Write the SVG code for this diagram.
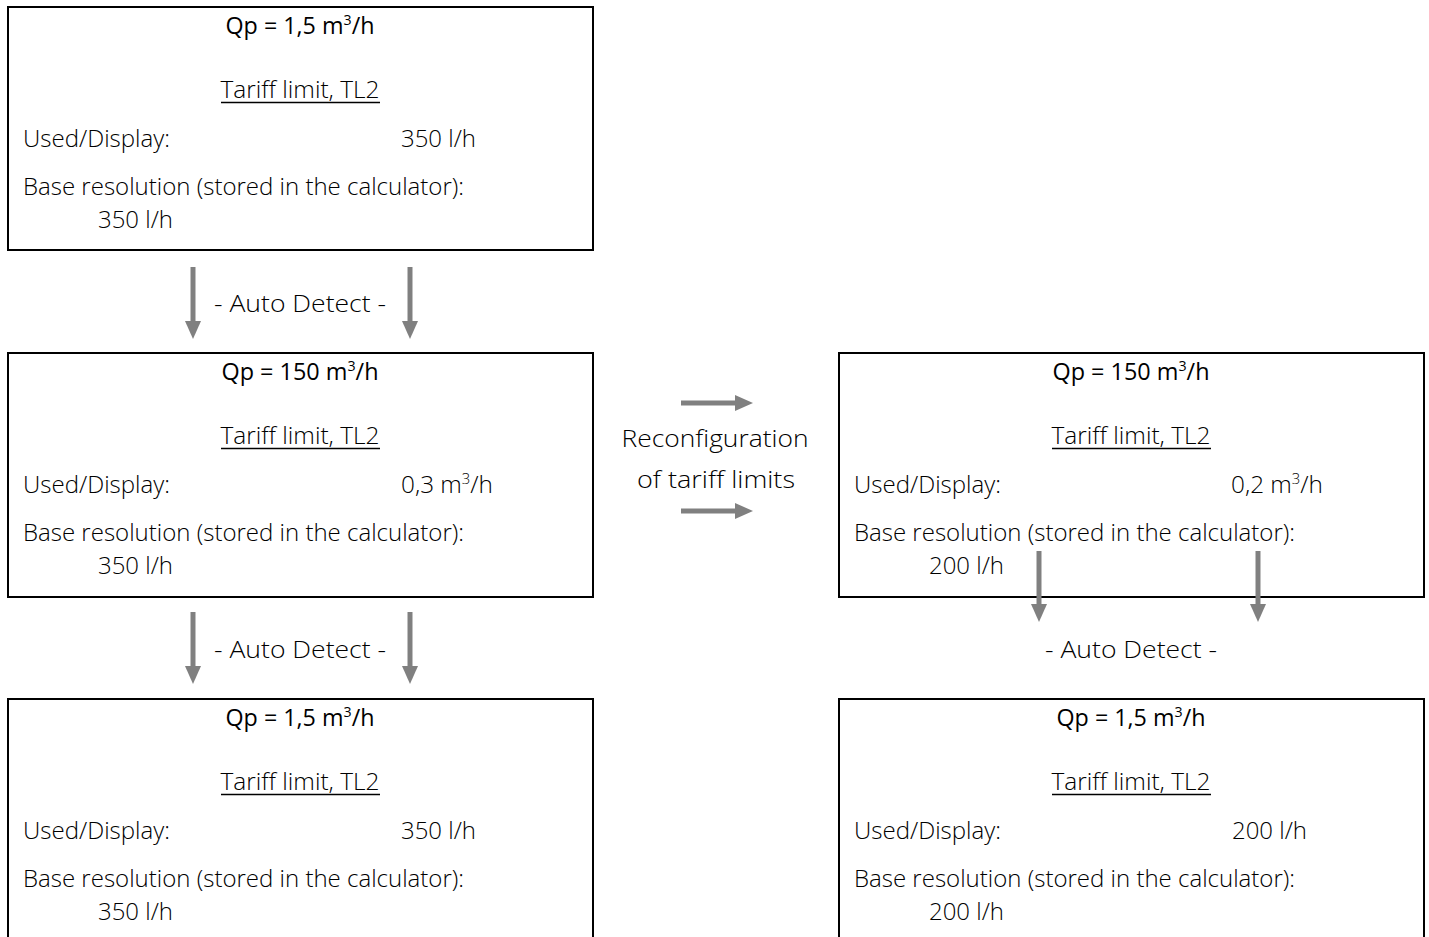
<svg xmlns="http://www.w3.org/2000/svg" width="1429" height="937" viewBox="0 0 1429 937">
<style>
.box{fill:#fff;stroke:#000;stroke-width:2}
text{font-family:"Open Sans","Liberation Sans",sans-serif;font-size:23px;font-weight:300;fill:#000}
.t{font-weight:400;text-anchor:middle}
.c{text-anchor:middle}
.sup{font-size:14px}
.ul{stroke:#000;stroke-width:1.5}
.ar{stroke:#808080;stroke-width:5;fill:none}
.ah{fill:#808080}
</style>
<defs>
<marker id="h" markerUnits="userSpaceOnUse" markerWidth="18" markerHeight="18" refX="0" refY="8" viewBox="0 0 18 16" orient="auto"><path d="M0,0 L18,8 L0,16 Z" class="ah"/></marker>
</defs>
<rect width="1429" height="937" fill="#fff"/>
<g id="box1">
<rect class="box" x="8" y="7" width="585" height="243"/>
<text class="t" x="300" y="34" textLength="149" lengthAdjust="spacingAndGlyphs">Qp = 1,5 m<tspan class="sup" dy="-9">3</tspan><tspan dy="9">/h</tspan></text>
<text class="c" x="300" y="98" textLength="159" lengthAdjust="spacingAndGlyphs">Tariff limit, TL2</text>
<line class="ul" x1="221" y1="102.5" x2="380" y2="102.5"/>
<text x="23" y="147" textLength="147" lengthAdjust="spacingAndGlyphs">Used/Display:</text>
<text x="401" y="147" textLength="75" lengthAdjust="spacingAndGlyphs">350 l/h</text>
<text x="23" y="195" textLength="441" lengthAdjust="spacingAndGlyphs">Base resolution (stored in the calculator):</text>
<text x="98" y="228" textLength="75" lengthAdjust="spacingAndGlyphs">350 l/h</text>
</g>
<g id="box2">
<rect class="box" x="8" y="353" width="585" height="244"/>
<text class="t" x="300" y="380" textLength="157" lengthAdjust="spacingAndGlyphs">Qp = 150 m<tspan class="sup" dy="-9">3</tspan><tspan dy="9">/h</tspan></text>
<text class="c" x="300" y="444" textLength="159" lengthAdjust="spacingAndGlyphs">Tariff limit, TL2</text>
<line class="ul" x1="221" y1="448.5" x2="380" y2="448.5"/>
<text x="23" y="493" textLength="147" lengthAdjust="spacingAndGlyphs">Used/Display:</text>
<text x="401" y="493" textLength="92" lengthAdjust="spacingAndGlyphs">0,3 m<tspan class="sup" dy="-9">3</tspan><tspan dy="9">/h</tspan></text>
<text x="23" y="541" textLength="441" lengthAdjust="spacingAndGlyphs">Base resolution (stored in the calculator):</text>
<text x="98" y="574" textLength="75" lengthAdjust="spacingAndGlyphs">350 l/h</text>
</g>
<g id="box3">
<rect class="box" x="8" y="699" width="585" height="260"/>
<text class="t" x="300" y="726" textLength="149" lengthAdjust="spacingAndGlyphs">Qp = 1,5 m<tspan class="sup" dy="-9">3</tspan><tspan dy="9">/h</tspan></text>
<text class="c" x="300" y="790" textLength="159" lengthAdjust="spacingAndGlyphs">Tariff limit, TL2</text>
<line class="ul" x1="221" y1="794.5" x2="380" y2="794.5"/>
<text x="23" y="839" textLength="147" lengthAdjust="spacingAndGlyphs">Used/Display:</text>
<text x="401" y="839" textLength="75" lengthAdjust="spacingAndGlyphs">350 l/h</text>
<text x="23" y="887" textLength="441" lengthAdjust="spacingAndGlyphs">Base resolution (stored in the calculator):</text>
<text x="98" y="920" textLength="75" lengthAdjust="spacingAndGlyphs">350 l/h</text>
</g>
<g id="box4">
<rect class="box" x="839" y="353" width="585" height="244"/>
<text class="t" x="1131" y="380" textLength="157" lengthAdjust="spacingAndGlyphs">Qp = 150 m<tspan class="sup" dy="-9">3</tspan><tspan dy="9">/h</tspan></text>
<text class="c" x="1131" y="444" textLength="159" lengthAdjust="spacingAndGlyphs">Tariff limit, TL2</text>
<line class="ul" x1="1052" y1="448.5" x2="1211" y2="448.5"/>
<text x="854" y="493" textLength="147" lengthAdjust="spacingAndGlyphs">Used/Display:</text>
<text x="1231" y="493" textLength="92" lengthAdjust="spacingAndGlyphs">0,2 m<tspan class="sup" dy="-9">3</tspan><tspan dy="9">/h</tspan></text>
<text x="854" y="541" textLength="441" lengthAdjust="spacingAndGlyphs">Base resolution (stored in the calculator):</text>
<text x="929" y="574" textLength="75" lengthAdjust="spacingAndGlyphs">200 l/h</text>
</g>
<g id="box5">
<rect class="box" x="839" y="699" width="585" height="260"/>
<text class="t" x="1131" y="726" textLength="149" lengthAdjust="spacingAndGlyphs">Qp = 1,5 m<tspan class="sup" dy="-9">3</tspan><tspan dy="9">/h</tspan></text>
<text class="c" x="1131" y="790" textLength="159" lengthAdjust="spacingAndGlyphs">Tariff limit, TL2</text>
<line class="ul" x1="1052" y1="794.5" x2="1211" y2="794.5"/>
<text x="854" y="839" textLength="147" lengthAdjust="spacingAndGlyphs">Used/Display:</text>
<text x="1232" y="839" textLength="75" lengthAdjust="spacingAndGlyphs">200 l/h</text>
<text x="854" y="887" textLength="441" lengthAdjust="spacingAndGlyphs">Base resolution (stored in the calculator):</text>
<text x="929" y="920" textLength="75" lengthAdjust="spacingAndGlyphs">200 l/h</text>
</g>
<g id="connectors">
<line class="ar" x1="193" y1="267" x2="193" y2="321" marker-end="url(#h)"/>
<line class="ar" x1="410" y1="267" x2="410" y2="321" marker-end="url(#h)"/>
<line class="ar" x1="193" y1="612" x2="193" y2="666" marker-end="url(#h)"/>
<line class="ar" x1="410" y1="612" x2="410" y2="666" marker-end="url(#h)"/>
<line class="ar" x1="1039" y1="551" x2="1039" y2="604" marker-end="url(#h)"/>
<line class="ar" x1="1258" y1="551" x2="1258" y2="604" marker-end="url(#h)"/>
<line class="ar" x1="681" y1="403" x2="735" y2="403" marker-end="url(#h)"/>
<line class="ar" x1="681" y1="511" x2="735" y2="511" marker-end="url(#h)"/>
</g>
<g id="labels">
<text class="c" x="300" y="312" textLength="172" lengthAdjust="spacingAndGlyphs">- Auto Detect -</text>
<text class="c" x="300" y="658" textLength="172" lengthAdjust="spacingAndGlyphs">- Auto Detect -</text>
<text class="c" x="1131" y="658" textLength="172" lengthAdjust="spacingAndGlyphs">- Auto Detect -</text>
<text class="c" x="715" y="447" textLength="187" lengthAdjust="spacingAndGlyphs">Reconfiguration</text>
<text class="c" x="716" y="488" textLength="158" lengthAdjust="spacingAndGlyphs">of tariff limits</text>
</g>
</svg>
